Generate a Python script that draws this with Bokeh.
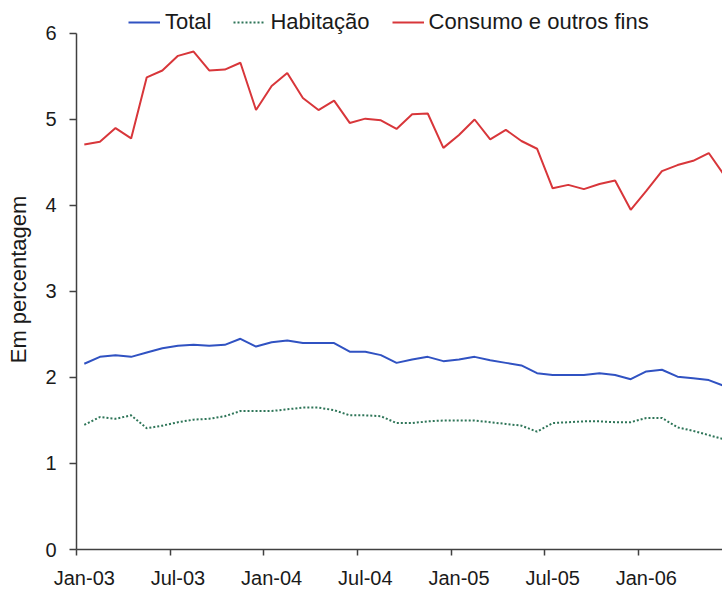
import numpy as np
from bokeh.plotting import figure
from bokeh.models import FixedTicker, Legend, LegendItem, Range1d, ColumnDataSource
from bokeh.embed import file_html
from bokeh.resources import INLINE

# Monthly series Jan-03 .. Jun-06 (percent)
months = [f"{m}-{y:02d}" for y in (3, 4, 5, 6) for m in
          ["Jan", "Feb", "Mar", "Apr", "May", "Jun", "Jul", "Aug", "Sep", "Oct", "Nov", "Dec"]][:42]

total = [2.16, 2.24, 2.26, 2.24, 2.29, 2.34, 2.37, 2.38, 2.37, 2.38, 2.45, 2.36,
         2.41, 2.43, 2.40, 2.40, 2.40, 2.30, 2.30, 2.26, 2.17, 2.21, 2.24, 2.19,
         2.21, 2.24, 2.20, 2.17, 2.14, 2.05, 2.03, 2.03, 2.03, 2.05, 2.03, 1.98,
         2.07, 2.09, 2.01, 1.99, 1.97, 1.90]

habitacao = [1.45, 1.54, 1.52, 1.56, 1.41, 1.44, 1.48, 1.51, 1.52, 1.55, 1.61, 1.61,
             1.61, 1.63, 1.65, 1.65, 1.62, 1.56, 1.56, 1.55, 1.47, 1.47, 1.49, 1.50,
             1.50, 1.50, 1.48, 1.46, 1.44, 1.37, 1.47, 1.48, 1.49, 1.49, 1.48, 1.48,
             1.53, 1.53, 1.42, 1.38, 1.33, 1.28]

consumo = [4.71, 4.74, 4.90, 4.78, 5.49, 5.57, 5.74, 5.79, 5.57, 5.58, 5.66, 5.11,
           5.39, 5.54, 5.25, 5.11, 5.22, 4.96, 5.01, 4.99, 4.89, 5.06, 5.07, 4.67,
           4.82, 5.00, 4.77, 4.88, 4.75, 4.66, 4.20, 4.24, 4.19, 4.25, 4.29, 3.95,
           4.17, 4.40, 4.47, 4.52, 4.61, 4.35]

tick_labels = ["Jan-03", "Jul-03", "Jan-04", "Jul-04", "Jan-05", "Jul-05", "Jan-06"]
y_ticks = [0, 1, 2, 3, 4, 5, 6]
series_names = ["Total", "Habitação", "Consumo e outros fins"]

# category centres (month index + 0.5); tick marks at category boundaries
x = np.arange(len(months)) + 0.5
src = ColumnDataSource(dict(x=x, total=total, hab=habitacao, con=consumo))

FONT = "Liberation Sans"

# frame extends above 6 (legend sits in that head room); y axis bounded to 0..6
p = figure(width=722, height=591, output_backend="svg", toolbar_location=None,
           x_range=Range1d(0, 41.38), y_range=Range1d(0, 6.279),
           min_border_left=76, min_border_right=0, min_border_top=9, min_border_bottom=42)
p.outline_line_color = None
p.xgrid.visible = False
p.ygrid.visible = False
p.background_fill_color = "white"
p.border_fill_color = "white"

r_tot = p.line("x", "total", source=src, line_color="#3052c2", line_width=2)
r_hab = p.line("x", "hab", source=src, line_color="#2e7558", line_width=2, line_dash="2 2")
r_con = p.line("x", "con", source=src, line_color="#d8363a", line_width=2)

# x axis: labels at category centres, tick marks at boundaries (minor ticks)
label_pos = [months.index(t) + 0.5 for t in tick_labels]
bound_pos = [months.index(t) for t in tick_labels]
p.xaxis.ticker = FixedTicker(ticks=label_pos, minor_ticks=bound_pos)
p.xaxis.major_label_overrides = {pos: t for pos, t in zip(label_pos, tick_labels)}
p.xaxis.major_tick_out = 0
p.xaxis.major_tick_in = 0
p.xaxis.minor_tick_out = 6
p.xaxis.minor_tick_in = 0
p.xaxis.minor_tick_line_color = "#404040"
p.xaxis.minor_tick_line_width = 1.5
p.xaxis.major_label_standoff = 11
p.xaxis.axis_line_color = "#404040"
p.xaxis.axis_line_width = 1.5
p.xaxis.major_label_text_font = FONT
p.xaxis.major_label_text_font_size = "20px"
p.xaxis.major_label_text_color = "#1a1a1a"

p.yaxis.ticker = FixedTicker(ticks=y_ticks, minor_ticks=[])
p.yaxis.bounds = (y_ticks[0], y_ticks[-1])
p.yaxis.major_tick_out = 7
p.yaxis.major_tick_in = 0
p.yaxis.major_tick_line_color = "#404040"
p.yaxis.major_tick_line_width = 1.5
p.yaxis.axis_line_color = "#404040"
p.yaxis.axis_line_width = 1.5
p.yaxis.major_label_standoff = 13
p.yaxis.major_label_text_font = FONT
p.yaxis.major_label_text_font_size = "20px"
p.yaxis.major_label_text_color = "#1a1a1a"
p.yaxis.axis_label = "Em percentagem"
p.yaxis.axis_label_text_font = FONT
p.yaxis.axis_label_text_font_size = "22px"
p.yaxis.axis_label_text_font_style = "normal"
p.yaxis.axis_label_text_color = "#1a1a1a"
p.yaxis.axis_label_standoff = 11

legend = Legend(items=[LegendItem(label=series_names[0], renderers=[r_tot]),
                       LegendItem(label=series_names[1], renderers=[r_hab]),
                       LegendItem(label=series_names[2], renderers=[r_con])],
                orientation="horizontal", location=(52, 514),
                padding=0, margin=0, spacing=22, label_standoff=5,
                glyph_width=32, glyph_height=20, label_height=20,
                border_line_alpha=0, background_fill_alpha=0,
                label_text_font=FONT, label_text_font_size="22px",
                label_text_color="#1a1a1a")
p.add_layout(legend, "center")

open("out.html", "w").write(file_html(p, INLINE))
